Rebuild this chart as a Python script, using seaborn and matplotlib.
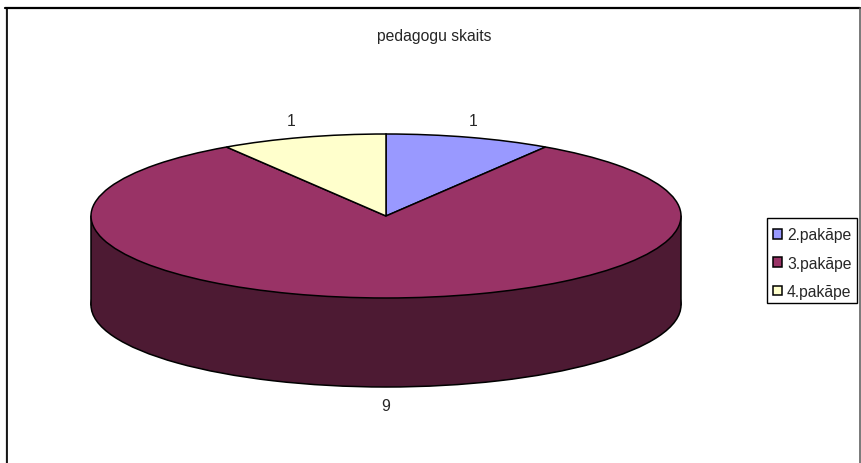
import matplotlib
matplotlib.use('Agg')
import matplotlib.pyplot as plt
import seaborn as sns
from matplotlib.patches import Rectangle

sns.set_style('white')
plt.rcParams['font.family'] = ['Liberation Sans', 'DejaVu Sans']

categories = ['2.pakāpe', '3.pakāpe', '4.pakāpe']
values = [1, 9, 1]
colors = ['#9999FF', '#993366', '#FFFFCC']
side_color = '#4D1A33'
title = 'pedagogu skaits'

W, H = 861, 464
FS = 11.3
fig = plt.figure(figsize=(W / 100, H / 100), dpi=100)

# whole-figure axes for the chart frame
bg = fig.add_axes([0, 0, 1, 1])
bg.set_xlim(0, W)
bg.set_ylim(H, 0)
bg.axis('off')
bg.plot([5.5, 5.5], [9, H], color='#888888', lw=1.0)
bg.plot([7, 7], [9, H], color='black', lw=1.2)
bg.plot([5, 860], [9, 9], color='black', lw=1.6)
bg.plot([860, 860], [9, H], color='#555555', lw=1.1)
bg.text(434, 36.5, title, ha='center', va='center', fontsize=FS)

# pie axes: radius 1 spans the ellipse of the top face
left, right, top, bottom = 91, 681, 135, 299
depth = 89 / ((bottom - top) / 2)
ax = fig.add_axes([left / W, 1 - bottom / H, (right - left) / W, (bottom - top) / H])
ax.patch.set_alpha(0)

edge = {'edgecolor': 'black', 'linewidth': 1.1}
# side wall: lower ellipse and the band between both ellipses
ax.pie([sum(values)], colors=[side_color], radius=1, center=(0, -depth),
       wedgeprops=edge, frame=True)
ax.add_patch(Rectangle((-1, -depth), 2, depth, facecolor=side_color, edgecolor='none', zorder=2))
ax.plot([-1, -1], [0, -depth], color='black', lw=1.1, zorder=3)
ax.plot([1, 1], [0, -depth], color='black', lw=1.1, zorder=3)

wedges, _ = ax.pie(values, colors=colors, startangle=90, counterclock=False, radius=1,
                   wedgeprops=edge, frame=True)
for w in wedges:
    w.set_zorder(4)

ax.set_aspect('auto')
ax.set_xlim(-1, 1)
ax.set_ylim(-1, 1)
ax.axis('off')
for a in ax.patches + ax.lines:
    a.set_clip_on(False)

# value labels
bg.text(473, 121, str(values[0]), ha='center', va='center', fontsize=FS, zorder=10)
bg.text(291, 121, str(values[2]), ha='center', va='center', fontsize=FS, zorder=10)
bg.text(386, 407, str(values[1]), ha='center', va='center', fontsize=FS, zorder=10)

# legend: box drawn apart so the rows can sit lower inside it
bg.add_patch(Rectangle((767, 219), 89.5, 85, facecolor='white', edgecolor='black', lw=1.0))
fig.legend(wedges, categories, loc='upper left', bbox_to_anchor=(767 / W, 1 - 222.5 / H),
           fontsize=FS, frameon=False, handlelength=0.58, handleheight=0.58,
           handletextpad=0.32, labelspacing=0.85, borderpad=0.38, borderaxespad=0)

fig.savefig('out.png', dpi=100)
